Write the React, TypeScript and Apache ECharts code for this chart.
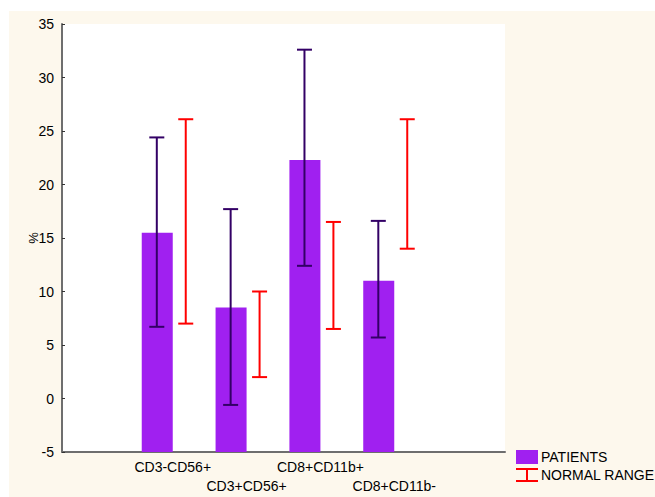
import React, { useEffect, useRef } from "react";
import * as echarts from "echarts";

const categories = ["CD3-CD56+", "CD3+CD56+", "CD8+CD11b+", "CD8+CD11b-"];
const axisCategories = ["", ...categories, ""];
const patientMeans = [15.5, 8.5, 22.3, 11.0];
const patientLow = [6.7, -0.6, 12.4, 5.7];
const patientHigh = [24.4, 17.7, 32.6, 16.6];
const normalLow = [7.0, 2.0, 6.5, 14.0];
const normalHigh = [26.1, 10.0, 16.5, 26.1];
const yMin = -5;
const yMax = 35;
const yStep = 5;

const FONT = "Arial, 'Liberation Sans', sans-serif";
const BAR_COLOR = "#a020f0";
const ERR_COLOR = "#330066";
const RANGE_COLOR = "#ff0000";
const TEXT_COLOR = "#000000";

function errorBarRenderer(offsetFrac: number, color: string) {
  return (params: any, api: any) => {
    const idx = api.value(0);
    const lo = api.coord([idx, api.value(1)]);
    const hi = api.coord([idx, api.value(2)]);
    const bw = api.size([1, 0])[0];
    const x = lo[0] + offsetFrac * bw;
    const cap = 7.5;
    const style = { stroke: color, lineWidth: 2 };
    return {
      type: "group",
      children: [
        { type: "line", shape: { x1: x, y1: hi[1], x2: x, y2: lo[1] }, style },
        { type: "line", shape: { x1: x - cap, y1: hi[1], x2: x + cap, y2: hi[1] }, style },
        { type: "line", shape: { x1: x - cap, y1: lo[1], x2: x + cap, y2: lo[1] }, style },
      ],
    };
  };
}

export default function App() {
  const ref = useRef<HTMLDivElement>(null);
  useEffect(() => {
    if (!ref.current) return;
    const chart = echarts.init(ref.current, null, { renderer: "svg" });
    chart.setOption({
      animation: false,
      backgroundColor: "#ffffff",
      graphic: [
        {
          type: "rect",
          z: -10,
          silent: true,
          shape: { x: 9, y: 11, width: 646, height: 486 },
          style: { fill: "#fdf8ed" },
        },
      ],
      grid: {
        left: 62,
        top: 24,
        width: 443,
        height: 428,
        show: true,
        backgroundColor: "#ffffff",
        borderWidth: 0,
      },
      legend: {
        orient: "vertical",
        left: 511,
        top: 445,
        itemWidth: 22,
        itemHeight: 14,
        itemGap: 4,
        textStyle: { fontFamily: FONT, fontSize: 14, color: TEXT_COLOR, padding: [0, 0, 0, -2] },
        data: [
          { name: "PATIENTS", icon: "rect" },
          {
            name: "NORMAL RANGE",
            icon: "path://M0,0H22V2H0Z M10,0H12V14H10Z M0,12H22V14H0Z",
          },
        ],
      },
      xAxis: {
        type: "category",
        data: axisCategories,
        boundaryGap: true,
        axisLine: { onZero: false, lineStyle: { color: "#6e6e6e", width: 2 } },
        axisTick: { inside: true, length: 3, lineStyle: { color: "#333" } },
        axisLabel: {
          interval: 0,
          margin: 5,
          fontFamily: FONT,
          fontSize: 14,
          lineHeight: 19,
          color: TEXT_COLOR,
          formatter: (v: string, i: number) => (i % 2 === 0 && v ? "\n" + v : v),
        },
        splitLine: { show: false },
      },
      yAxis: {
        type: "value",
        min: yMin,
        max: yMax,
        interval: yStep,
        name: "%",
        nameLocation: "middle",
        nameRotate: 90,
        nameGap: 22,
        nameMoveOverlap: false,
        nameTextStyle: { fontFamily: FONT, fontSize: 13, color: TEXT_COLOR },
        axisLine: { show: true, onZero: false, lineStyle: { color: "#6e6e6e", width: 2 } },
        axisTick: { show: true, inside: true, length: 3, lineStyle: { color: "#333" } },
        axisLabel: { margin: 8, fontFamily: FONT, fontSize: 14, color: TEXT_COLOR },
        splitLine: { show: false },
      },
      series: [
        {
          name: "PATIENTS",
          type: "custom",
          itemStyle: { color: BAR_COLOR },
          encode: { x: 0, y: 1 },
          data: patientMeans.map((v, i) => [i + 1, v]),
          renderItem: (params: any, api: any) => {
            const idx = api.value(0);
            const top = api.coord([idx, api.value(1)]);
            const base = api.coord([idx, yMin]);
            const bw = api.size([1, 0])[0];
            const w = 0.42 * bw;
            return {
              type: "rect",
              shape: { x: top[0] - w, y: top[1], width: w, height: base[1] - top[1] },
              style: { fill: BAR_COLOR },
            };
          },
          z: 2,
        },
        {
          name: "PATIENTS",
          type: "custom",
          itemStyle: { color: BAR_COLOR },
          encode: { x: 0, y: [1, 2] },
          data: patientLow.map((v, i) => [i + 1, v, patientHigh[i]]),
          renderItem: errorBarRenderer(-0.216, ERR_COLOR),
          z: 3,
        },
        {
          name: "NORMAL RANGE",
          type: "custom",
          itemStyle: { color: RANGE_COLOR },
          encode: { x: 0, y: [1, 2] },
          data: normalLow.map((v, i) => [i + 1, v, normalHigh[i]]),
          renderItem: errorBarRenderer(0.176, RANGE_COLOR),
          z: 3,
        },
      ],
    });
    return () => chart.dispose();
  }, []);
  return (
    <div
      ref={ref}
      style={{ position: "absolute", left: 0, top: 0, width: 655, height: 497 }}
    />
  );
}
